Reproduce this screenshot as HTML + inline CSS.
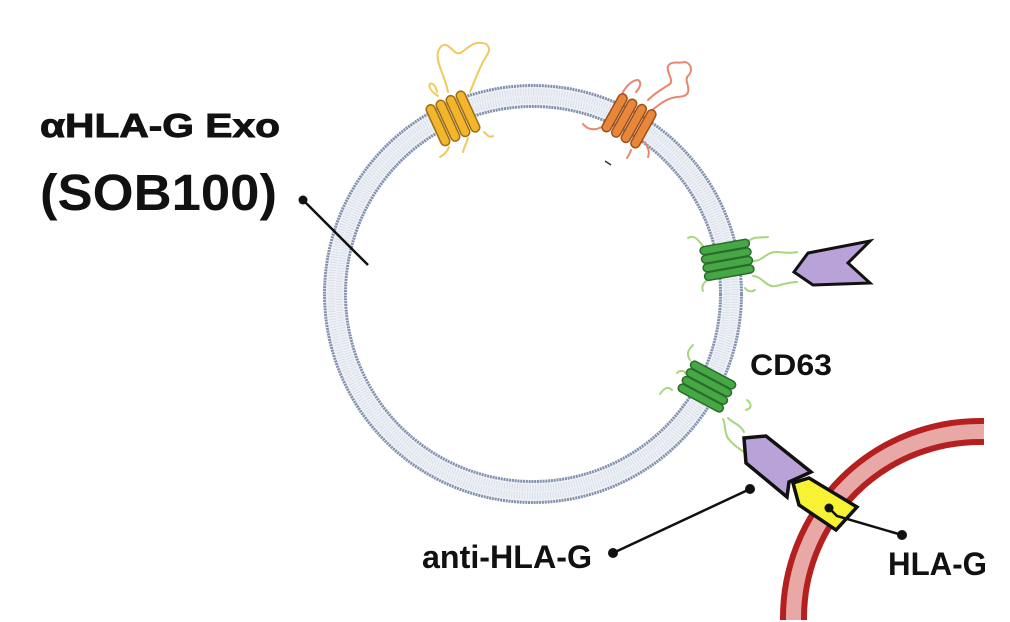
<!DOCTYPE html>
<html><head><meta charset="utf-8"><style>
html,body{margin:0;padding:0;background:#fff;width:1010px;height:622px;overflow:hidden;}
svg{display:block;}
text{font-family:"Liberation Sans",Arial,sans-serif;font-weight:bold;fill:#111;}
</style></head><body>
<svg width="1010" height="622" viewBox="0 0 1010 622" xmlns="http://www.w3.org/2000/svg">
<rect width="1010" height="622" fill="#fff"/>

<!-- exosome membrane -->
<circle cx="533" cy="294" r="198" fill="none" stroke="#eef1f6" stroke-width="22"/>
<circle cx="533" cy="294" r="194" fill="none" stroke="#d9dfea" stroke-width="7" stroke-dasharray="1 1.6"/>
<circle cx="533" cy="294" r="202" fill="none" stroke="#d9dfea" stroke-width="7" stroke-dasharray="1 1.6"/>
<circle cx="533" cy="294" r="208.5" fill="none" stroke="#8391ae" stroke-width="3" stroke-dasharray="2 0.8"/>
<circle cx="533" cy="294" r="187.5" fill="none" stroke="#8391ae" stroke-width="3" stroke-dasharray="2 0.8"/>

<!-- cell membrane (red) -->
<path d="M794,620 A186,186 0 0 1 984,432" fill="none" stroke="#e8a9a6" stroke-width="17"/>
<path d="M783,620 A197,197 0 0 1 984,421" fill="none" stroke="#b51f1f" stroke-width="6"/>
<path d="M804,620 A176,176 0 0 1 984,442" fill="none" stroke="#b51f1f" stroke-width="6"/>

<!-- yellow protein loops -->
<g fill="none" stroke="#f0ca5e" stroke-width="2" stroke-linecap="round">
<path d="M448,92 C446,80 440,70 438,60 C436,50 442,42 448,46 C454,50 456,56 462,52 C470,46 476,40 486,44 C494,50 484,58 482,64 C478,72 474,82 470,92"/>
<path d="M438,96 C432,92 428,88 430,84 C432,82 436,86 437,92"/>
<path d="M449,147 C447,152 444,155 440,157"/>
<path d="M468,138 C466,144 464,148 463,152"/>
<path d="M484,132 C488,136 490,138 493,136"/>
</g>
<!-- yellow bars -->
<g transform="rotate(-24.5 533 294)">
<g fill="#f3b52c" stroke="#9c6d12" stroke-width="1.5">
<rect x="512" y="79" width="9" height="44" rx="4.5"/>
<rect x="523" y="79" width="9" height="44" rx="4.5"/>
<rect x="534" y="79" width="9" height="44" rx="4.5"/>
<rect x="545" y="79" width="9" height="44" rx="4.5"/>
</g>
</g>

<!-- orange loops -->
<g fill="none" stroke="#e8876e" stroke-width="2" stroke-linecap="round">
<path d="M622,94 C626,86 632,80 638,80 C642,82 640,88 636,92"/>
<path d="M648,100 C656,92 664,88 670,84 C674,80 666,72 668,66 C672,60 680,64 684,62 C690,62 694,70 688,76 C684,80 690,86 688,92 C686,98 678,96 672,98 C664,100 658,106 652,110"/>
<path d="M583,124 C588,130 596,132 606,124"/>
<path d="M631,150 C630,154 628,156 627,158"/>
<path d="M645,142 C648,148 650,152 648,157"/>
</g>
<g transform="rotate(29 533 294)">
<g fill="#e8863a" stroke="#9e4f18" stroke-width="1.5">
<rect x="512" y="75" width="9" height="42" rx="4.5"/>
<rect x="523" y="75" width="9" height="42" rx="4.5"/>
<rect x="534" y="75" width="9" height="42" rx="4.5"/>
<rect x="545" y="75" width="9" height="42" rx="4.5"/>
</g>
</g>

<!-- small mark -->
<path d="M605,161 L611,165" stroke="#333" stroke-width="1.5"/>

<!-- green top loops -->
<g fill="none" stroke="#a8d67f" stroke-width="2" stroke-linecap="round">
<path d="M688,238 C694,234 698,240 703,246"/>
<path d="M703,291 C701,286 704,282 708,280"/>
<path d="M750,240 C756,236 762,238 768,237"/>
<path d="M752,261 C762,262 766,252 776,252 C784,252 790,254 797,252"/>
<path d="M753,276 C762,276 766,288 776,286 C784,284 790,282 797,282"/>
<path d="M745,288 C748,292 752,292 755,290"/>
</g>
<g transform="rotate(80 533 294)">
<g fill="#45a845" stroke="#2b6b2b" stroke-width="1.5">
<rect x="516" y="72" width="8" height="50" rx="4"/>
<rect x="524.7" y="72" width="8" height="50" rx="4"/>
<rect x="533.4" y="72" width="8" height="50" rx="4"/>
<rect x="542.1" y="72" width="8" height="50" rx="4"/>
</g>
</g>

<!-- purple top -->
<polygon points="794,272 808,253 870,241 848,263 870,283 813,285" fill="#b9a2d8" stroke="#111" stroke-width="3" stroke-linejoin="miter"/>

<!-- green bottom loops -->
<g fill="none" stroke="#a8d67f" stroke-width="2" stroke-linecap="round">
<path d="M693,345 C688,350 686,354 690,360"/>
<path d="M677,373 C680,370 684,370 686,374"/>
<path d="M660,394 C664,388 668,386 672,390"/>
<path d="M747,400 C752,404 752,408 746,410"/>
<path d="M723,419 C726,426 724,432 728,438"/>
<path d="M728,418 C734,424 740,424 744,432"/>
<path d="M727,437 C732,444 738,448 744,452"/>
</g>
<g transform="rotate(118 533 294)">
<g fill="#45a845" stroke="#2b6b2b" stroke-width="1.5">
<rect x="516" y="72" width="8" height="50" rx="4"/>
<rect x="524.7" y="72" width="8" height="50" rx="4"/>
<rect x="533.4" y="72" width="8" height="50" rx="4"/>
<rect x="542.1" y="72" width="8" height="50" rx="4"/>
</g>
</g>

<!-- purple bottom (antibody) -->
<polygon points="744,438 766,436 811,472 789,482 787,497 746,463" fill="#b9a2d8" stroke="#111" stroke-width="3.5" stroke-linejoin="miter"/>
<!-- yellow HLA-G -->
<polygon points="793,483 809,478 857,507 836,530 799,505" fill="#f7f233" stroke="#111" stroke-width="3.5" stroke-linejoin="miter"/>

<!-- connectors -->
<g stroke="#111" stroke-width="2.5" fill="#111">
<line x1="303" y1="200" x2="368" y2="265"/>
<circle cx="303" cy="200" r="4.5" stroke="none"/>
<line x1="613" y1="553" x2="750" y2="489"/>
<circle cx="613" cy="553" r="5" stroke="none"/>
<circle cx="750" cy="489" r="5" stroke="none"/>
<polyline points="829,508 837,516 902,535" fill="none"/>
<circle cx="829" cy="508" r="4.5" stroke="none"/>
<circle cx="902" cy="535" r="5" stroke="none"/>
</g>

<!-- labels -->
<text x="40" y="137" font-size="33" textLength="240" lengthAdjust="spacingAndGlyphs" stroke="#111" stroke-width="0.9">αHLA-G Exo</text>
<text x="40" y="210" font-size="51" textLength="237" lengthAdjust="spacingAndGlyphs">(SOB100)</text>
<text x="750" y="375" font-size="30" textLength="82" lengthAdjust="spacingAndGlyphs">CD63</text>
<text x="422" y="568" font-size="32" textLength="170" lengthAdjust="spacingAndGlyphs">anti-HLA-G</text>
<text x="888" y="575" font-size="32" textLength="99" lengthAdjust="spacingAndGlyphs">HLA-G</text>
</svg>
</body></html>
